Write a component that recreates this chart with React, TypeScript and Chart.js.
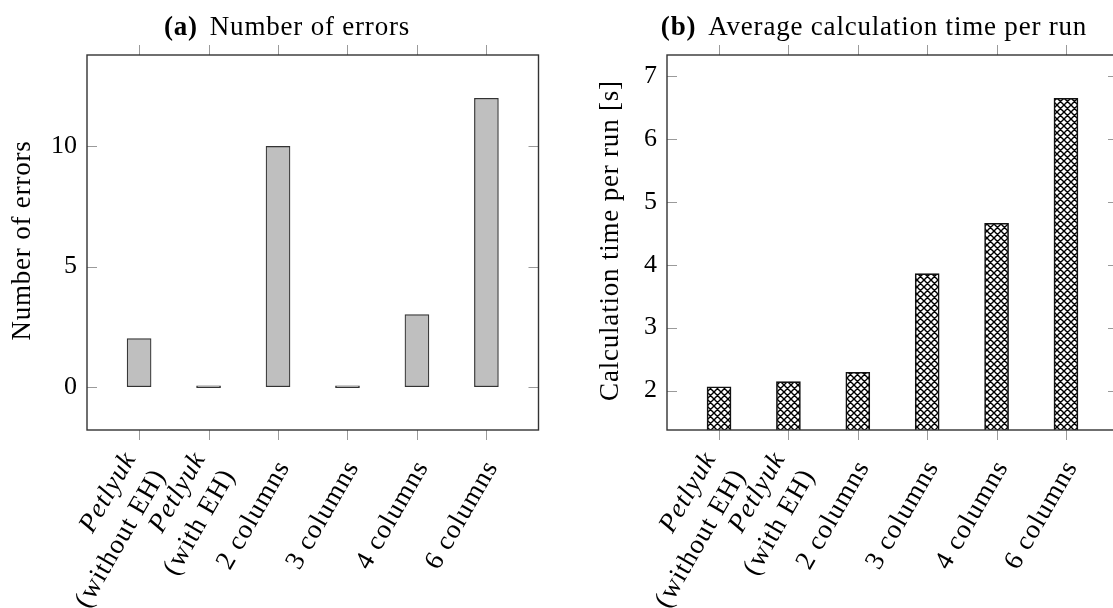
import React, { useEffect, useRef } from 'react';
import { Chart, registerables } from 'chart.js';

Chart.register(...registerables);

// Categories shared by both panels (multi-line labels are stacked).
const categories: string[][] = [
  ['Petlyuk', '(without EH)'],
  ['Petlyuk', '(with EH)'],
  ['2 columns'],
  ['3 columns'],
  ['4 columns'],
  ['6 columns'],
];
// Lines of a label that are set in italics.
const italicLines = ['Petlyuk'];

// (a) Number of errors per configuration
const errorCounts = [2, 0, 10, 0, 3, 12];
const errorTicks = [0, 5, 10];

// (b) Average calculation time per run, seconds
const runTimes = [2.06, 2.14, 2.29, 3.86, 4.66, 6.65];
const timeTicks = [2, 3, 4, 5, 6, 7];

const SERIF = "'Liberation Serif', 'DejaVu Serif', serif";
const PAGE_W = 1113;
const PAGE_H = 608;
const AREA_TOP = 55;
const AREA_BOTTOM = 430;

// Pad a data range by 15% of its span on each side.
function enlarged(vals: number[], f = 0.15): [number, number] {
  const lo = Math.min(...vals);
  const hi = Math.max(...vals);
  const d = (hi - lo) * f;
  return [lo - d, hi + d];
}

function crosshatch(): CanvasPattern | string {
  const s = 7;
  const c = document.createElement('canvas');
  c.width = s;
  c.height = s;
  const g = c.getContext('2d');
  if (!g) return '#888';
  g.fillStyle = '#fff';
  g.fillRect(0, 0, s, s);
  g.strokeStyle = '#000';
  g.lineWidth = 1.4;
  g.beginPath();
  for (const o of [-s, 0, s]) {
    g.moveTo(o, 0);
    g.lineTo(o + s, s);
    g.moveTo(o + s, 0);
    g.lineTo(o, s);
  }
  g.stroke();
  return g.createPattern(c, 'repeat') || '#888';
}

type PanelProps = {
  left: number; // canvas left edge on the page
  width: number; // canvas width
  areaLeft: number; // plot frame left, page coords
  areaRight: number; // plot frame right, page coords
  values: number[];
  ticks: number[];
  tag: string;
  title: string;
  titleCenter: number;
  yLabel: string;
  yLabelX: number;
  hatched: boolean;
};

function BarPanel(p: PanelProps) {
  const ref = useRef<HTMLCanvasElement>(null);

  useEffect(() => {
    const canvas = ref.current;
    if (!canvas) return;
    const [yMin, yMax] = enlarged(p.values);
    const [xMin, xMax] = enlarged(p.values.map((_, i) => i));
    const ox = p.left;

    const decorations = {
      id: 'decorations',
      afterDatasetsDraw(chart: any) {
        const { ctx, chartArea: a, scales } = chart;
        const xs = scales.x;
        const ys = scales.y;
        ctx.save();

        // tick marks: y inward on both sides, x outward top and bottom
        ctx.strokeStyle = '#9a9a9a';
        ctx.lineWidth = 1;
        ctx.beginPath();
        const tl = 10;
        for (const v of p.ticks) {
          const py = Math.round(ys.getPixelForValue(v)) + 0.5;
          ctx.moveTo(a.left, py);
          ctx.lineTo(a.left + tl, py);
          ctx.moveTo(a.right - tl, py);
          ctx.lineTo(a.right, py);
        }
        categories.forEach((_, i) => {
          const px = Math.round(xs.getPixelForValue(i)) + 0.5;
          ctx.moveTo(px, a.top - tl);
          ctx.lineTo(px, a.top);
          ctx.moveTo(px, a.bottom);
          ctx.lineTo(px, a.bottom + tl);
        });
        ctx.stroke();

        // plot frame
        ctx.strokeStyle = '#333';
        ctx.lineWidth = 1.4;
        ctx.strokeRect(a.left, a.top, a.right - a.left, a.bottom - a.top);

        // panel title: bold tag followed by the caption text
        ctx.fillStyle = '#000';
        ctx.textBaseline = 'alphabetic';
        (ctx as any).letterSpacing = '0.8px';
        const boldFont = `bold 27px ${SERIF}`;
        const normFont = `27px ${SERIF}`;
        ctx.font = boldFont;
        const wTag = ctx.measureText(p.tag).width;
        ctx.font = normFont;
        const wTitle = ctx.measureText(p.title).width;
        const gap = 12;
        const start = p.titleCenter - ox - (wTag + gap + wTitle) / 2;
        ctx.font = boldFont;
        ctx.textAlign = 'left';
        ctx.fillText(p.tag, start, 35);
        ctx.font = normFont;
        ctx.fillText(p.title, start + wTag + gap, 35);

        // y-axis label
        ctx.save();
        ctx.translate(p.yLabelX - ox, (a.top + a.bottom) / 2 - 2);
        ctx.rotate(-Math.PI / 2);
        ctx.textAlign = 'center';
        ctx.textBaseline = 'middle';
        ctx.font = normFont;
        ctx.fillText(p.yLabel, 0, 0);
        ctx.restore();

        // category labels, rotated 60 degrees, lines right-aligned at the tick
        (ctx as any).letterSpacing = '1px';
        const lineH = 34;
        categories.forEach((lines, i) => {
          const px = xs.getPixelForValue(i);
          ctx.save();
          ctx.translate(px + 6, a.bottom + 33);
          ctx.rotate(-Math.PI / 3);
          ctx.textAlign = 'right';
          ctx.textBaseline = 'middle';
          lines.forEach((t, k) => {
            ctx.font = italicLines.includes(t) ? `italic 27px ${SERIF}` : `27px ${SERIF}`;
            ctx.fillText(t, 0, (k - (lines.length - 1) / 2) * lineH);
          });
          ctx.restore();
        });

        ctx.restore();
      },
    };

    const chart = new Chart(canvas, {
      type: 'bar',
      data: {
        datasets: [
          {
            data: p.values.map((v, i) => ({ x: i, y: v })),
            backgroundColor: p.hatched ? crosshatch() : '#bfbfbf',
            borderColor: p.hatched ? '#111' : '#333',
            borderWidth: p.hatched ? 1.6 : 1.2,
            borderSkipped: false,
            barThickness: 24,
            minBarLength: 2,
          } as any,
        ],
      },
      options: {
        animation: false,
        responsive: false,
        maintainAspectRatio: false,
        devicePixelRatio: 1,
        events: [],
        layout: {
          padding: {
            left: 0,
            top: AREA_TOP,
            right: p.width - (p.areaRight - ox),
            bottom: PAGE_H - AREA_BOTTOM,
          },
        },
        plugins: {
          legend: { display: false },
          tooltip: { enabled: false },
          title: { display: false },
        },
        scales: {
          x: {
            type: 'linear',
            display: false,
            offset: false,
            grid: { offset: false },
            min: xMin,
            max: xMax,
          },
          y: {
            type: 'linear',
            min: yMin,
            max: yMax,
            grid: { display: false, drawTicks: false },
            border: { display: false },
            ticks: {
              color: '#000',
              padding: 10,
              font: { family: SERIF, size: 26 },
            },
            afterBuildTicks: (s: any) => {
              s.ticks = p.ticks.map((v) => ({ value: v }));
            },
            afterFit: (s: any) => {
              s.width = p.areaLeft - ox;
            },
          },
        },
      } as any,
      plugins: [decorations],
    });
    return () => chart.destroy();
  }, []);

  return (
    <canvas
      ref={ref}
      width={p.width}
      height={PAGE_H}
      style={{ position: 'absolute', left: p.left, top: 0, width: p.width, height: PAGE_H }}
    />
  );
}

export default function App() {
  return (
    <div
      style={{
        position: 'absolute',
        left: 0,
        top: 0,
        width: PAGE_W,
        height: PAGE_H,
        overflow: 'hidden',
        background: '#fff',
      }}
    >
      <BarPanel
        left={0}
        width={560}
        areaLeft={87}
        areaRight={538.5}
        values={errorCounts}
        ticks={errorTicks}
        tag="(a)"
        title="Number of errors"
        titleCenter={287}
        yLabel="Number of errors"
        yLabelX={23}
        hatched={false}
      />
      <BarPanel
        left={560}
        width={570}
        areaLeft={667}
        areaRight={1118}
        values={runTimes}
        ticks={timeTicks}
        tag="(b)"
        title="Average calculation time per run"
        titleCenter={874}
        yLabel="Calculation time per run [s]"
        yLabelX={611}
        hatched={true}
      />
    </div>
  );
}
